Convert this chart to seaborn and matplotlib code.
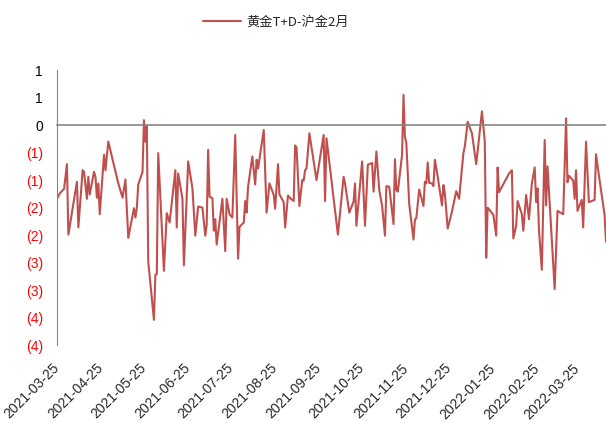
import math
import pandas as pd
import matplotlib
matplotlib.use("Agg")
import matplotlib.pyplot as plt
import matplotlib.dates as mdates
from matplotlib.ticker import FuncFormatter, MultipleLocator
import seaborn as sns

# data (yuan spread)
dates = [
    "2021-03-25", "2021-03-27", "2021-03-30", "2021-04-01", "2021-04-02", "2021-04-08", "2021-04-09",
    "2021-04-12", "2021-04-13", "2021-04-15", "2021-04-16", "2021-04-17", "2021-04-20", "2021-04-21",
    "2021-04-22", "2021-04-23", "2021-04-24", "2021-04-27", "2021-04-28", "2021-04-30",
    "2021-05-07", "2021-05-10", "2021-05-12", "2021-05-14", "2021-05-18", "2021-05-19", "2021-05-20",
    "2021-05-21", "2021-05-24", "2021-05-25", "2021-05-26", "2021-05-27", "2021-05-28",
    "2021-06-01", "2021-06-02", "2021-06-03", "2021-06-04", "2021-06-08", "2021-06-10", "2021-06-12",
    "2021-06-16", "2021-06-17", "2021-06-18", "2021-06-21", "2021-06-22", "2021-06-25", "2021-06-28",
    "2021-06-30",
    "2021-07-02", "2021-07-05", "2021-07-07", "2021-07-08", "2021-07-09", "2021-07-10", "2021-07-12",
    "2021-07-13", "2021-07-14", "2021-07-15", "2021-07-19", "2021-07-21", "2021-07-22", "2021-07-24",
    "2021-07-26", "2021-07-28", "2021-07-30", "2021-07-31",
    "2021-08-03", "2021-08-04", "2021-08-05", "2021-08-06", "2021-08-09", "2021-08-11", "2021-08-12",
    "2021-08-13", "2021-08-17", "2021-08-19", "2021-08-21", "2021-08-24", "2021-08-25", "2021-08-27",
    "2021-08-28", "2021-08-31",
    "2021-09-01", "2021-09-03", "2021-09-05", "2021-09-07", "2021-09-08", "2021-09-09", "2021-09-11",
    "2021-09-13", "2021-09-14", "2021-09-15", "2021-09-16", "2021-09-18", "2021-09-23", "2021-09-28",
    "2021-09-29", "2021-09-30",
    "2021-10-08", "2021-10-12", "2021-10-13", "2021-10-16", "2021-10-19", "2021-10-20", "2021-10-21",
    "2021-10-23", "2021-10-25", "2021-10-27", "2021-10-29",
    "2021-11-01", "2021-11-02", "2021-11-04", "2021-11-06", "2021-11-08", "2021-11-10", "2021-11-11",
    "2021-11-13", "2021-11-16", "2021-11-17", "2021-11-18", "2021-11-19", "2021-11-22", "2021-11-23",
    "2021-11-24", "2021-11-25", "2021-11-27", "2021-11-30",
    "2021-12-01", "2021-12-02", "2021-12-04", "2021-12-07", "2021-12-08", "2021-12-09", "2021-12-10",
    "2021-12-11", "2021-12-13", "2021-12-14", "2021-12-15", "2021-12-17", "2021-12-20", "2021-12-21",
    "2021-12-22", "2021-12-24", "2021-12-27", "2021-12-30",
    "2022-01-01", "2022-01-04", "2022-01-05", "2022-01-07", "2022-01-10", "2022-01-13", "2022-01-17",
    "2022-01-19", "2022-01-20", "2022-01-21", "2022-01-25", "2022-01-27", "2022-01-28", "2022-01-29",
    "2022-02-05", "2022-02-07", "2022-02-08", "2022-02-10", "2022-02-11", "2022-02-14", "2022-02-15",
    "2022-02-17", "2022-02-19", "2022-02-21", "2022-02-23", "2022-02-24", "2022-02-25", "2022-02-26",
    "2022-02-28",
    "2022-03-02", "2022-03-03", "2022-03-04", "2022-03-09", "2022-03-11", "2022-03-15", "2022-03-17",
    "2022-03-18", "2022-03-19", "2022-03-22", "2022-03-23", "2022-03-24", "2022-03-25", "2022-03-28",
    "2022-03-29", "2022-03-31",
    "2022-04-02", "2022-04-06", "2022-04-07", "2022-04-09", "2022-04-13", "2022-04-14",
]
spread = [
    -1.34, -1.24, -1.16, -0.71, -1.99, -1.03, -1.86, -0.82, -0.85, -1.34, -0.94, -1.26, -0.85, -0.94,
    -1.32, -1.06, -1.62, -0.54, -0.82, -0.30,
    -1.06, -1.32, -0.99, -2.05, -1.51, -1.68, -1.51, -1.08, -0.85, 0.09, -0.30, -0.01, -2.48,
    -3.54, -2.72, -2.71, -0.51, -2.65, -1.60, -1.77, -0.82, -1.86, -0.88, -1.34, -2.55, -0.66, -1.15,
    -2.01,
    -1.48, -1.50, -2.01, -1.81, -0.45, -1.30, -1.33, -1.92, -1.71, -2.17, -1.34, -2.29, -1.34, -1.62,
    -1.68, -0.18, -2.43, -1.85,
    -1.77, -1.38, -1.59, -1.12, -0.57, -1.08, -0.63, -0.79, -0.09, -1.59, -1.06, -1.27, -1.52, -0.71,
    -1.26, -1.40,
    -1.86, -1.28, -1.34, -1.38, -0.37, -0.41, -1.47, -1.00, -1.01, -0.82, -0.79, -0.15, -1.00, -0.18,
    -1.38, -0.24,
    -1.99, -0.94, -1.06, -1.59, -1.39, -1.06, -1.83, -1.24, -0.66, -1.83, -0.72,
    -0.69, -1.21, -0.48, -1.18, -1.47, -2.01, -1.11, -1.12, -1.80, -0.62, -1.18, -1.21, -0.54, 0.55,
    -0.21, -0.33, -1.43, -2.08,
    -1.72, -1.69, -1.17, -1.47, -1.03, -1.06, -0.68, -1.05, -1.06, -1.11, -0.63, -0.94, -1.46, -1.09,
    -1.24, -1.88, -1.57, -1.20,
    -1.34, -0.51, -0.39, 0.06, -0.15, -0.71, 0.25, -0.30, -2.41, -1.50, -1.63, -2.01, -0.77, -1.22,
    -0.88, -0.82, -2.06, -1.83, -1.38, -1.62, -1.92, -1.27, -1.71, -1.06, -0.77, -1.40, -1.15, -1.91,
    -2.63,
    -0.27, -1.46, -0.75, -2.98, -1.56, -1.62, 0.12, -1.04, -0.92, -1.01, -1.34, -0.82, -1.56, -1.36,
    -1.86, -0.30,
    -1.40, -1.36, -0.53, -0.91, -1.63, -2.12,
]
series_name = "黄金T+D-沪金2月"

df = pd.DataFrame({"date": pd.to_datetime(dates), "spread": spread})

sns.set_style("white")
plt.rcParams["font.family"] = ["Liberation Sans", "Noto Sans CJK SC", "DejaVu Sans"]

fig = plt.figure(figsize=(6.06, 4.22), dpi=100)
ax = fig.add_axes([0.094, 0.182, 0.906, 0.652])

sns.lineplot(data=df, x="date", y="spread", ax=ax, color="#C0504D", linewidth=1.5, label=series_name)

grey = "#868686"
ax.set_ylim(-4, 1)
ax.set_xlim(pd.Timestamp("2021-03-25"), pd.Timestamp("2022-04-14"))
ax.yaxis.set_major_locator(MultipleLocator(0.5))


def fmt(v, pos):
    r = int(math.floor(abs(v) + 0.5))
    if v < -1e-9:
        return "(%d)" % r
    return "%d" % r


ax.yaxis.set_major_formatter(FuncFormatter(fmt))
ax.xaxis.set_major_locator(mdates.MonthLocator(bymonthday=25))
ax.xaxis.set_major_formatter(mdates.DateFormatter("%Y-%m-%d"))

for s in ["top", "right"]:
    ax.spines[s].set_visible(False)
ax.spines["left"].set_color(grey)
ax.spines["bottom"].set_color(grey)
ax.spines["bottom"].set_position(("data", 0))
ax.spines["bottom"].set_linewidth(1.2)
ax.tick_params(axis="y", direction="out", length=4, width=1, color=grey, pad=6, labelsize=10)
ax.tick_params(axis="x", direction="out", length=3, width=1, color=grey, labelbottom=False)
ax.set_xlabel("")
ax.set_ylabel("")

fig.canvas.draw()
for lab in ax.get_yticklabels():
    txt = lab.get_text()
    lab.set_color("#FF0000" if txt.startswith("(") else "black")

# second axes only for the date labels along the bottom
ax_lab = fig.add_axes(ax.get_position(), sharex=ax, frameon=False)
ax_lab.set_yticks([])
ax_lab.tick_params(axis="x", length=0, pad=15, labelsize=10)
for lab in ax_lab.get_xticklabels():
    lab.set_rotation(45)
    lab.set_ha("right")
    lab.set_va("center")
    lab.set_rotation_mode("anchor")

handles, labels = ax.get_legend_handles_labels()
ax.get_legend().remove()
fig.legend(handles, labels, loc="upper center", bbox_to_anchor=(0.455, 0.99), frameon=False,
           handlelength=2.9, handletextpad=0.4,
           prop={"family": ["Noto Sans CJK SC", "DejaVu Sans"], "size": 9.5})

fig.savefig("out.png", dpi=100)
